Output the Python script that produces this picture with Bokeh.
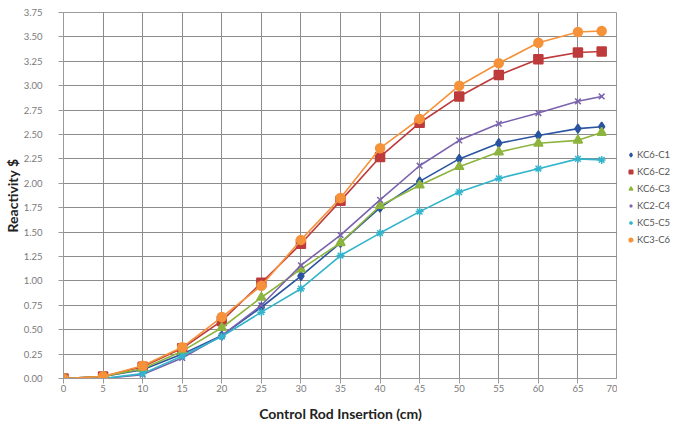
from bokeh.plotting import figure
from bokeh.layouts import row
from bokeh.models import Legend, LegendItem, FixedTicker, NumeralTickFormatter, Range1d
from bokeh.embed import file_html
from bokeh.resources import INLINE

x_cm = [0, 5, 10, 15, 20, 25, 30, 35, 40, 45, 50, 55, 60, 65, 68]

kc6_c1 = [0.0, 0.02, 0.09, 0.25, 0.44, 0.73, 1.05, 1.39, 1.75, 2.02, 2.25, 2.41, 2.49, 2.56, 2.58]
kc6_c2 = [0.0, 0.02, 0.12, 0.31, 0.59, 0.98, 1.38, 1.82, 2.27, 2.62, 2.89, 3.11, 3.27, 3.34, 3.35]
kc6_c3 = [0.0, 0.02, 0.10, 0.28, 0.52, 0.83, 1.12, 1.39, 1.77, 1.98, 2.17, 2.32, 2.41, 2.44, 2.52]
kc2_c4 = [0.0, 0.0, 0.04, 0.21, 0.44, 0.75, 1.16, 1.47, 1.83, 2.18, 2.44, 2.61, 2.72, 2.84, 2.89]
kc5_c5 = [0.0, 0.0, 0.05, 0.23, 0.43, 0.68, 0.92, 1.26, 1.49, 1.71, 1.91, 2.05, 2.15, 2.25, 2.24]
kc3_c6 = [0.0, 0.02, 0.13, 0.32, 0.63, 0.95, 1.42, 1.85, 2.36, 2.66, 3.00, 3.23, 3.44, 3.55, 3.56]

series_names = ["KC6-C1", "KC6-C2", "KC6-C3", "KC2-C4", "KC5-C5", "KC3-C6"]
series_vals = [kc6_c1, kc6_c2, kc6_c3, kc2_c4, kc5_c5, kc3_c6]
colors = ["#2A54A0", "#BE3B3B", "#8DB43E", "#7A62AE", "#33B4CB", "#F5923A"]
markers = ["diamond", "square", "triangle", "x", "asterisk", "circle"]
sizes = [9, 9, 9, 8, 8, 9]

x_ticks = list(range(0, 75, 5))
y_ticks = [i * 0.25 for i in range(16)]

FONT = "Lato"

p = figure(frame_width=554, frame_height=366, output_backend="svg", toolbar_location=None,
           x_range=Range1d(0, 70), y_range=Range1d(0, 3.75),
           min_border_left=60, min_border_top=12, min_border_bottom=39, min_border_right=0,
           background_fill_color="white", border_fill_color="white")

p.outline_line_color = "#9a9a9a"
p.outline_line_width = 1

p.xaxis.ticker = FixedTicker(ticks=x_ticks)
p.yaxis.ticker = FixedTicker(ticks=y_ticks)
p.yaxis.formatter = NumeralTickFormatter(format="0.00")
for ax in (p.xaxis, p.yaxis):
    ax.axis_line_color = "#9a9a9a"
    ax.major_tick_line_color = "#9a9a9a"
    ax.major_tick_out = 5
    ax.major_tick_in = 0
    ax.minor_tick_line_color = None
    ax.major_label_text_font = FONT
    ax.major_label_text_font_size = "9.5px"
    ax.major_label_text_color = "#7a7a7a"
    ax.axis_label_text_font = FONT
    ax.axis_label_text_font_size = "14px"
    ax.axis_label_text_font_style = "bold"
    ax.axis_label_text_color = "#222222"
p.xaxis.major_label_standoff = 1
p.yaxis.major_label_standoff = 16
p.xaxis.axis_label = "Control Rod Insertion (cm)"
p.yaxis.axis_label = "Reactivity $"
p.xaxis.axis_label_standoff = 10
p.yaxis.axis_label_standoff = 0

p.xgrid.grid_line_color = "#8c8c8c"
p.ygrid.grid_line_color = "#8c8c8c"
p.xgrid.grid_line_width = 1
p.ygrid.grid_line_width = 1

for name, vals, c, m, s in zip(series_names, series_vals, colors, markers, sizes):
    p.line(x_cm, vals, line_color=c, line_width=1.6)
    p.scatter(x_cm, vals, marker=m, size=s, fill_color=c, line_color=c, line_width=1.5)

# legend panel to the right of the plot area (its marks lie outside its own range)
pl = figure(width=61, height=417, output_backend="svg", toolbar_location=None,
            x_range=Range1d(0, 1), y_range=Range1d(0, 1),
            min_border=0, outline_line_color=None,
            background_fill_color="white", border_fill_color="white")
pl.axis.visible = False
pl.grid.visible = False

items = []
for name, vals, c, m, s in zip(series_names, series_vals, colors, markers, sizes):
    r = pl.scatter(x=[x_cm[-1]], y=[vals[-1]], marker=m, size=s, fill_color=c,
                   line_color=c, line_width=1.5)
    items.append(LegendItem(label=name, renderers=[r]))

legend = Legend(items=items, location=(9, 126), border_line_color=None,
                background_fill_alpha=0, label_text_font=FONT, label_text_font_size="9.5px",
                label_text_color="#555555", glyph_width=9, glyph_height=11, label_height=11,
                spacing=6, padding=1, margin=0, label_standoff=2)
pl.add_layout(legend)

layout = row(p, pl, spacing=0)
open("out.html", "w").write(file_html(layout, INLINE))
